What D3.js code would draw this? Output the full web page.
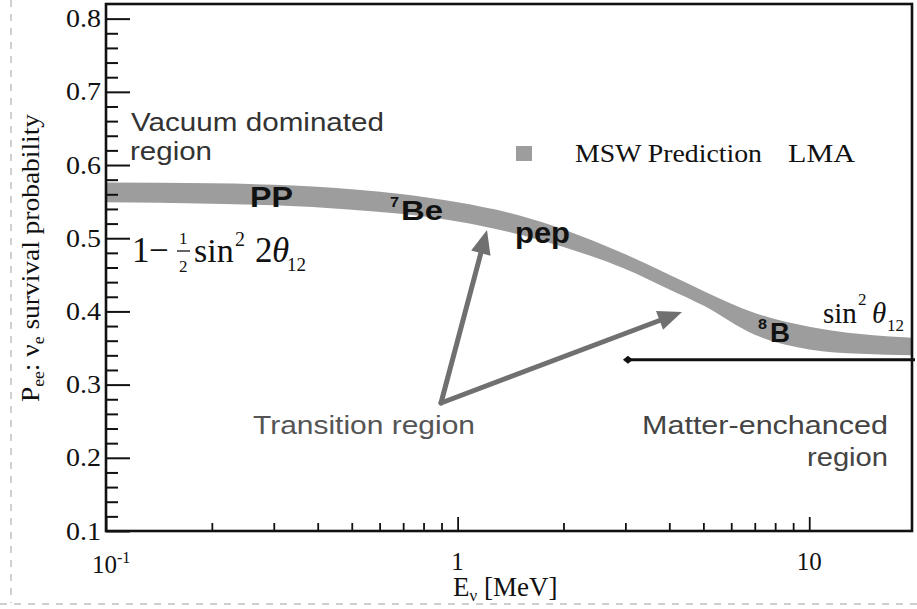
<!DOCTYPE html>
<html><head><meta charset="utf-8">
<script src="https://cdn.jsdelivr.net/npm/d3@7"></script>
<style>html,body{margin:0;padding:0;background:#fff;} svg{display:block;}</style>
</head><body>
<svg id="chart" width="917" height="609"></svg>
<script>
// ---- data ----
const energyMeV = [0.1, 0.2, 0.3, 0.5, 0.7, 1.0, 1.5, 2, 3, 4, 5, 7, 10, 14, 19.6];
const peeUpper  = [0.576, 0.575, 0.573, 0.567, 0.560, 0.549, 0.531, 0.512, 0.478, 0.450, 0.428, 0.398, 0.379, 0.369, 0.364];
const peeLower  = [0.549, 0.547, 0.545, 0.539, 0.533, 0.523, 0.505, 0.488, 0.458, 0.430, 0.408, 0.368, 0.348, 0.342, 0.340];
const yMajorTicks = [0.1, 0.2, 0.3, 0.4, 0.5, 0.6, 0.7, 0.8];
const yMinorTicks = [0.12,0.14,0.16,0.18,0.22,0.24,0.26,0.28,0.32,0.34,0.36,0.38,0.42,0.44,0.46,0.48,
                     0.52,0.54,0.56,0.58,0.62,0.64,0.66,0.68,0.72,0.74,0.76,0.78];
const xMajorTicks = [0.1, 1, 10];
const xMinorTicks = [0.2,0.3,0.4,0.5,0.6,0.7,0.8,0.9,2,3,4,5,6,7,8,9];
const xTickLabels = ["10|-1", "1", "10"];
const yTickLabels = ["0.1","0.2","0.3","0.4","0.5","0.6","0.7","0.8"];
const matterLineMeV = [3.05, 19.6];
const matterLinePee = 0.334;
const legendLabels = ["MSW Prediction", "LMA"];

// ---- layout ----
const W = 917, H = 609;
const L = 106, R = 912, T = 4, B = 531;
const svg = d3.select("#chart");
const x = d3.scaleLog().domain([0.1, 19.6]).range([L, R]);
const y = d3.scaleLinear().domain([0.1, 0.82]).range([B, T]);
const serif = "'Liberation Serif','Times New Roman',serif";
const sans = "'Liberation Sans',Arial,sans-serif";

// scan-like dashed borders
svg.append("line").attr("x1",11).attr("x2",11).attr("y1",0).attr("y2",603)
  .attr("stroke","#cfcfcf").attr("stroke-width",2).attr("stroke-dasharray","7,7");
svg.append("line").attr("x1",0).attr("x2",W).attr("y1",604).attr("y2",604)
  .attr("stroke","#cfcfcf").attr("stroke-width",2).attr("stroke-dasharray","7,7");

// band
const bandData = energyMeV.map((e,i)=>({e, hi:peeUpper[i], lo:peeLower[i]}));
const area = d3.area().x(d=>x(d.e)).y0(d=>y(d.lo)).y1(d=>y(d.hi)).curve(d3.curveMonotoneX);
svg.append("path").datum(bandData).attr("d", area).attr("fill","#9d9d9d");

// axes ticks
const gy = svg.append("g").attr("transform",`translate(${L},0)`);
gy.call(d3.axisLeft(y).tickValues(yMinorTicks).tickSize(-12).tickFormat(""));
gy.select(".domain").remove();
const gy2 = svg.append("g").attr("transform",`translate(${L},0)`);
gy2.call(d3.axisLeft(y).tickValues(yMajorTicks).tickSize(-24).tickPadding(5)
  .tickFormat((d,i)=>yTickLabels[i]));
gy2.select(".domain").remove();
[gy, gy2].forEach(g=>g.selectAll(".tick line").attr("stroke","#111").attr("stroke-width",2));
gy2.selectAll(".tick text").attr("font-family",serif).attr("font-size",25).attr("fill","#111")
  .attr("textLength",35).attr("lengthAdjust","spacingAndGlyphs");

const gx = svg.append("g").attr("transform",`translate(0,${B})`);
gx.call(d3.axisBottom(x).tickValues(xMinorTicks).tickSize(-8).tickFormat(""));
gx.select(".domain").remove();
const gx2 = svg.append("g").attr("transform",`translate(0,${B})`);
gx2.call(d3.axisBottom(x).tickValues(xMajorTicks).tickSize(-14).tickFormat(""));
gx2.select(".domain").remove();
[gx, gx2].forEach(g=>g.selectAll(".tick line").attr("stroke","#111").attr("stroke-width",1.8));

// x tick labels
xMajorTicks.forEach((v,i)=>{
  const [base, exp] = xTickLabels[i].split("|");
  const t = svg.append("text").attr("font-family",serif).attr("font-size",25).attr("fill","#111");
  if (exp) {
    t.attr("x", x(v)-14).attr("y",573).attr("text-anchor","start").text(base);
    t.append("tspan").attr("font-size",16).attr("dy",-10).text(exp);
  } else {
    t.attr("x", x(v)).attr("y",570).attr("text-anchor","middle").text(base);
  }
});

// frame
svg.append("rect").attr("x",L).attr("y",T).attr("width",R-L).attr("height",B-T)
  .attr("fill","none").attr("stroke","#111").attr("stroke-width",2.6);

// axis titles
const xt = svg.append("text").attr("x",453).attr("y",596).attr("text-anchor","start")
  .attr("font-family",serif).attr("font-size",27).attr("fill","#111");
xt.append("tspan").text("E");
xt.append("tspan").attr("font-size",17).attr("dy",5).text("ν");
xt.append("tspan").attr("dy",-5).text(" [MeV]");

const yt = svg.append("text").attr("transform","translate(39,258) rotate(-90)").attr("text-anchor","middle")
  .attr("font-family",serif).attr("font-size",25).attr("fill","#111").attr("textLength",288).attr("lengthAdjust","spacingAndGlyphs");
yt.append("tspan").text("P");
yt.append("tspan").attr("font-size",16).attr("dy",5).text("ee");
yt.append("tspan").attr("dy",-5).text(":  ν");
yt.append("tspan").attr("font-size",16).attr("dy",5).text("e");
yt.append("tspan").attr("dy",-5).text(" survival probability");

// matter line (sin^2 theta12)
svg.append("line").attr("x1",x(matterLineMeV[0])).attr("x2",x(matterLineMeV[1])+3)
  .attr("y1",y(matterLinePee)).attr("y2",y(matterLinePee)).attr("stroke","#111").attr("stroke-width",3);
const dx0 = x(matterLineMeV[0]), dy0 = y(matterLinePee);
svg.append("path").attr("d",`M${dx0-5},${dy0} L${dx0},${dy0-4} L${dx0+5},${dy0} L${dx0},${dy0+4} Z`).attr("fill","#111");

// arrows
function arrow(x1,y1,x2,y2){
  const ang = Math.atan2(y2-y1, x2-x1), len = 24, hw = 10;
  const bx = x2 - len*Math.cos(ang), by = y2 - len*Math.sin(ang);
  svg.append("line").attr("x1",x1).attr("y1",y1).attr("x2",bx).attr("y2",by)
    .attr("stroke","#707070").attr("stroke-width",5).attr("stroke-linecap","round");
  const px = -Math.sin(ang)*hw, py = Math.cos(ang)*hw;
  svg.append("path").attr("d",`M${x2},${y2} L${bx+px},${by+py} L${bx-px},${by-py} Z`).attr("fill","#707070");
}
arrow(441,403,487,230);
arrow(441,403,682,312);

// legend
svg.append("rect").attr("x",516).attr("y",146).attr("width",16).attr("height",15).attr("fill","#9d9d9d");
svg.append("text").attr("x",575).attr("y",162).attr("font-family",serif).attr("font-size",25).attr("fill","#111")
  .attr("textLength",187).attr("lengthAdjust","spacingAndGlyphs").text(legendLabels[0]);
svg.append("text").attr("x",788).attr("y",162).attr("font-family",serif).attr("font-size",25).attr("fill","#111")
  .attr("textLength",67).attr("lengthAdjust","spacingAndGlyphs").text(legendLabels[1]);

// region annotations
function ann(txt, xx, yy, len, anchor, col){
  svg.append("text").attr("x",xx).attr("y",yy).attr("font-family",sans).attr("font-size",26)
    .attr("fill",col||"#333").attr("text-anchor",anchor||"start")
    .attr("textLength",len).attr("lengthAdjust","spacingAndGlyphs").text(txt);
}
ann("Vacuum dominated", 131, 131, 253);
ann("region", 130, 160, 82);
ann("Transition region", 253, 434, 222, "start", "#555");
ann("Matter-enchanced", 888, 434, 246, "end", "#444");
ann("region", 888, 466, 81, "end", "#444");

// source labels
function bold(txt, xx, yy, size, len){
  svg.append("text").attr("x",xx).attr("y",yy).attr("font-family",sans).attr("font-weight","bold")
    .attr("font-size",size).attr("fill","#111").attr("textLength",len).attr("lengthAdjust","spacingAndGlyphs").text(txt);
}
bold("PP", 250, 207, 30, 43);
bold("7", 390, 207, 15, 9);
bold("Be", 401, 220, 27, 42);
bold("pep", 515, 243, 29, 55);
bold("8", 758, 329, 15, 9);
bold("B", 770, 342, 27, 20);

// formulas
function st(txt, xx, yy, size, italic){
  svg.append("text").attr("x",xx).attr("y",yy).attr("font-family",serif).attr("font-size",size)
    .attr("font-style", italic ? "italic" : "normal").attr("fill","#111").text(txt);
}
st("1", 132, 262, 35);
st("−", 149, 262, 35);
st("1", 179, 244, 17);
svg.append("line").attr("x1",177).attr("x2",190).attr("y1",251).attr("y2",251).attr("stroke","#111").attr("stroke-width",1.3);
st("2", 179, 272, 17);
st("sin", 194, 262, 34);
st("2", 235, 246, 20);
st("2", 255, 262, 35);
st("θ", 272, 262, 35, true);
st("12", 287, 271, 19);

st("sin", 823, 323, 29);
st("2", 858, 305, 17);
st("θ", 872, 323, 29, true);
st("12", 887, 331, 17);
</script>
</body></html>
